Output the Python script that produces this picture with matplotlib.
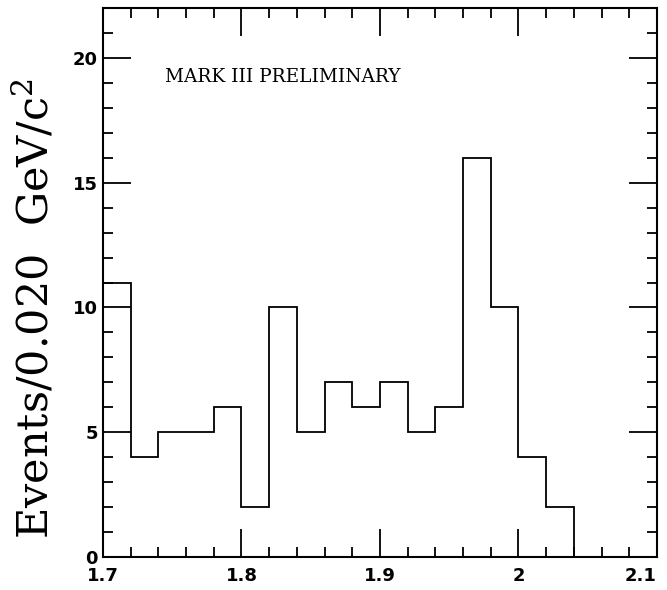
import numpy as np
import matplotlib.pyplot as plt
from matplotlib.ticker import MultipleLocator

plt.rcParams['mathtext.fontset'] = 'dejavuserif'

# bin edges (GeV/c^2) and counts per 0.020 GeV/c^2
edges = [1.70, 1.72, 1.74, 1.76, 1.78, 1.80, 1.82, 1.84, 1.86, 1.88,
         1.90, 1.92, 1.94, 1.96, 1.98, 2.00, 2.02, 2.04]
counts = [11, 4, 5, 5, 6, 2, 10, 5, 7, 6, 7, 5, 6, 16, 10, 4, 2]

x_ticks = [1.7, 1.8, 1.9, 2.0, 2.1]
x_labels = ['1.7', '1.8', '1.9', '2', '2.1']
y_ticks = [0, 5, 10, 15, 20]

fig = plt.figure(figsize=(6.67, 5.9), dpi=100)
ax = fig.add_axes([0.1544, 0.0559, 0.8306, 0.9305])

ax.stairs(counts, edges, color='black', linewidth=1.3)

ax.set_xlim(1.7, 2.1)
ax.set_ylim(0, 22)
ax.set_xticks(x_ticks)
ax.set_xticklabels(x_labels)
ax.set_yticks(y_ticks)
ax.xaxis.set_minor_locator(MultipleLocator(0.02))
ax.yaxis.set_minor_locator(MultipleLocator(1))
ax.tick_params(which='both', direction='in', top=True, right=True, width=1.3)
ax.tick_params(which='major', length=20, labelsize=13)
ax.tick_params(which='minor', length=7)
ax.tick_params(axis='x', pad=7)
for lab in ax.get_xticklabels() + ax.get_yticklabels():
    lab.set_fontweight('bold')
ax.get_xticklabels()[-1].set_horizontalalignment('right')
ax.get_xticklabels()[-1].set_x(2.108)
for s in ax.spines.values():
    s.set_linewidth(1.5)

ax.text(0.112, 0.874, 'MARK III PRELIMINARY', transform=ax.transAxes,
        fontsize=13.3, family='DejaVu Serif', va='center')
ax.set_ylabel('Events/0.020  GeV/c$^2$', fontsize=31, family='DejaVu Serif')
ax.yaxis.set_label_coords(-0.082, 0.4535)

fig.savefig('out.png', dpi=100)
